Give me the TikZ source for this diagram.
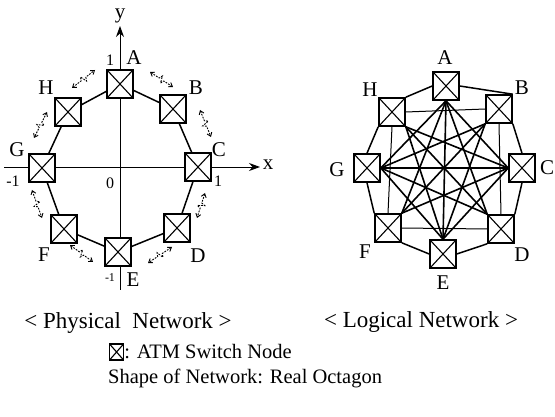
\documentclass[tikz,border=0pt]{standalone}
\usepackage{fontspec}
\setmainfont{Liberation Serif}
\usetikzlibrary{calc,arrows.meta}
\newcommand\zzarrow[2]{%
  \draw[zz] (#1) -- ($(#1)!0.40!(#2)$) -- ($($(#1)!0.46!(#2)$)!3.5pt!90:(#2)$)
    -- ($($(#1)!0.54!(#2)$)!3.5pt!-90:(#2)$) -- ($(#1)!0.60!(#2)$) -- (#2);}
\begin{document}
\begin{tikzpicture}[x=1pt,y=-1pt,font=\fontsize{21}{25}\selectfont,
  sw/.style={draw,line width=1.6pt,fill=white,minimum width=26pt,minimum height=28pt,inner sep=0pt,
    path picture={\draw[line width=1.1pt] (path picture bounding box.north west)--(path picture bounding box.south east)
      (path picture bounding box.north east)--(path picture bounding box.south west);}},
  lbl/.style={inner sep=0pt},
  captxt/.style={inner sep=0pt,font=\fontsize{23}{27}\selectfont},
  legtxt/.style={inner sep=0pt,font=\fontsize{20.5}{24}\selectfont},
  sm/.style={inner sep=0pt,font=\fontsize{16}{19}\selectfont},
  tiny/.style={inner sep=0pt,font=\fontsize{12}{14}\selectfont},
  axisln/.style={line width=0.9pt,-{Stealth[length=11pt,width=8pt]}},
  octln/.style={line width=1.5pt},
  chord/.style={line width=1.6pt},
  sqln/.style={line width=1pt},
  zz/.style={line width=0.9pt,dash pattern=on 1.8pt off 1.2pt,{Straight Barb[length=3.5pt,width=5pt]}-{Straight Barb[length=3.5pt,width=5pt]}}]
\fill[white] (0,0) rectangle (555,417);
\useasboundingbox (0,0) rectangle (555,417);
% ---------------- physical network ----------------
\coordinate (xs) at (4,167);
\coordinate (xe) at (260,167);
\coordinate (ys) at (120,290);
\coordinate (ye) at (120,26);
\draw[axisln] (xs) -- (xe);
\draw[axisln] (ys) -- (ye);
\node[lbl] (xl) at (268,165) {x};
\node[lbl,anchor=base] (yl) at (120,19) {y};
\coordinate (pA) at (120,84);
\coordinate (pB) at (173,109);
\coordinate (pC) at (198,167);
\coordinate (pD) at (177,228);
\coordinate (pE) at (118,252);
\coordinate (pF) at (64,229);
\coordinate (pG) at (42,168);
\coordinate (pH) at (68,112);
\draw[octln] (pA) -- (pB) -- (pC) -- (pD) -- (pE) -- (pF) -- (pG) -- (pH) -- cycle;
\foreach \n in {A,B,C,D,E,F,G,H} {\node[sw] (P\n) at (p\n) {};}
\node[lbl] (lA) at (134,58) {A};
\node[sm] (o1) at (110,60) {1};
\node[lbl] (lB) at (196,88) {B};
\node[lbl] (lC) at (219,150) {C};
\node[sm] (o2) at (218,181) {1};
\node[lbl] (lD) at (198,256) {D};
\node[lbl] (lE) at (133,280) {E};
\node[tiny] (o3) at (110,278) {-1};
\node[lbl] (lF) at (44,255) {F};
\node[lbl] (lG) at (17,150) {G};
\node[sm] (o4) at (13,181) {-1};
\node[sm] (o0) at (110,183) {0};
\node[lbl] (lH) at (46,88) {H};
% dashed zigzag arrows
\coordinate (ab1) at (150,72);  \coordinate (ab2) at (173,87);
\coordinate (bc1) at (200,110); \coordinate (bc2) at (211,137);
\coordinate (cd1) at (205,193); \coordinate (cd2) at (197,218);
\coordinate (de1) at (172,247); \coordinate (de2) at (148,263);
\coordinate (ef1) at (70,245);  \coordinate (ef2) at (93,262);
\coordinate (fg1) at (32,190);  \coordinate (fg2) at (42,218);
\coordinate (gh1) at (47,112);  \coordinate (gh2) at (34,138);
\coordinate (ha1) at (72,88);   \coordinate (ha2) at (95,70);
\zzarrow{ab1}{ab2}
\zzarrow{bc1}{bc2}
\zzarrow{cd1}{cd2}
\zzarrow{de1}{de2}
\zzarrow{ef1}{ef2}
\zzarrow{fg1}{fg2}
\zzarrow{gh1}{gh2}
\zzarrow{ha1}{ha2}
% ---------------- logical network ----------------
\node[sw] (A) at (446,86) {};
\node[sw] (B) at (499,109) {};
\node[sw] (C) at (522,168) {};
\node[sw] (D) at (501,229) {};
\node[sw] (E) at (443,254) {};
\node[sw] (F) at (388,228) {};
\node[sw] (G) at (367,168) {};
\node[sw] (H) at (392,112) {};
% outer octagon
\draw[octln] (A.east) -- (B.north east);
\draw[octln] (B.south east) -- (C.north);
\draw[octln] (C.south) -- (D.north east);
\draw[octln] (D.south west) -- (E.east);
\draw[octln] (E.west) -- (F.south east);
\draw[octln] (F.north west) -- (G.south);
\draw[octln] (G.north) -- (H.south west);
\draw[octln] (H.north east) -- (A.west);
% inner square (thin)
\draw[sqln] (H.east) -- (B.west);
\draw[sqln] (B.south) -- (D.north);
\draw[sqln] (D.west) -- (F.east);
\draw[sqln] (F.north) -- (H.south);
% chords
\draw[chord] (A.south) -- (C.west) -- (E.north) -- (G.east) -- cycle;
\draw[chord] (A.south) -- (D.north west);
\draw[chord] (A.south) -- (F.north east);
\draw[chord] (A.south) -- (E.north);
\draw[chord] (B.south west) -- (E.north);
\draw[chord] (B.south west) -- (G.east);
\draw[chord] (B.south west) -- (F.north east);
\draw[chord] (C.west) -- (F.north east);
\draw[chord] (C.west) -- (H.south east);
\draw[chord] (C.west) -- (G.east);
\draw[chord] (D.north west) -- (G.east);
\draw[chord] (D.north west) -- (H.south east);
\draw[chord] (E.north) -- (H.south east);
\node[lbl] (la) at (445,58) {A};
\node[lbl] (lb) at (522,88) {B};
\node[lbl] (lc) at (547,168) {C};
\node[lbl] (ld) at (522,255) {D};
\node[lbl] (le) at (443,283) {E};
\node[lbl] (lf) at (365,252) {F};
\node[lbl] (lg) at (337,170) {G};
\node[lbl] (lh) at (370,90) {H};
% ---------------- captions ----------------
\node[captxt] (cap1) at (128,323) {< Physical\ \ Network >};
\node[captxt] (cap2) at (421,322) {< Logical Network >};
\node[sw,minimum width=14pt,minimum height=16pt,line width=1.1pt,anchor=west] (leg) at (109,352) {};
\node[legtxt,anchor=west] (legt) at (leg.east) {: ATM Switch Node};
\node[legtxt,anchor=west] (shape) at (108,378) {Shape of Network: Real Octagon};
\end{tikzpicture}
\end{document}
